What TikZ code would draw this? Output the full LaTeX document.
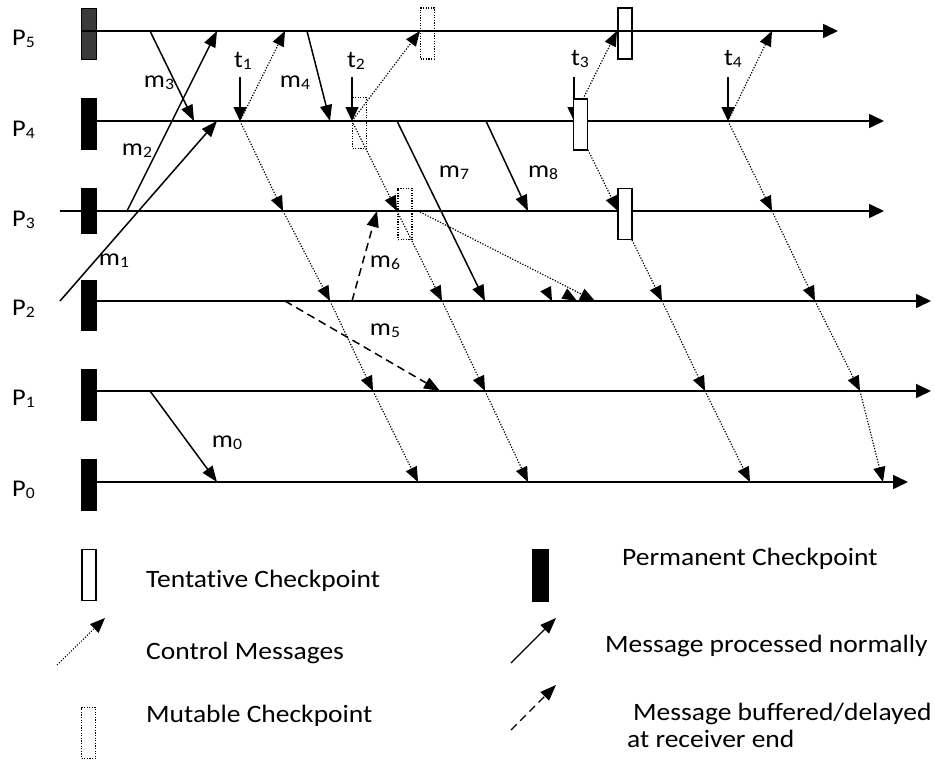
\documentclass[tikz,border=0pt]{standalone}
\usepackage{fontspec}
\setmainfont{Carlito}[FakeStretch=1.1,Ligatures=NoCommon]
\usetikzlibrary{arrows.meta}
\definecolor{dk}{HTML}{3A3A3A}
\newcommand\sbs[1]{\raisebox{-2pt}{\fontsize{16}{18}\selectfont #1}}
\begin{document}
\begin{tikzpicture}[x=1pt,y=-1pt,
  proc/.style={line width=1.6pt,-{Triangle[length=15pt 0 1,width=14pt 0 1]}},
  msg/.style={line width=1.5pt,-{Triangle[length=16pt 0 1,width=12pt 0 1]}},
  buf/.style={msg,dash pattern=on 8pt off 5pt},
  ctrl/.style={line width=1.2pt,dash pattern=on 1.2pt off 1.6pt,-{Triangle[length=15pt 0 1,width=12pt 0 1]}},
  tarr/.style={line width=1.5pt,-{Triangle[length=14pt 0 1,width=13pt 0 1]}},
  perm/.style={draw,fill=black,line width=1pt,minimum width=15pt,inner sep=0pt},
  tent/.style={draw,fill=white,line width=1.4pt,minimum width=14pt,minimum height=51pt,inner sep=0pt},
  mut/.style={draw,dash pattern=on 1.2pt off 1.4pt,line width=1.1pt,minimum width=14pt,minimum height=51pt,inner sep=0pt},
  lab/.style={font=\fontsize{24}{28}\selectfont,inner sep=0pt,anchor=base},
  plab/.style={font=\fontsize{24}{28}\selectfont,inner sep=0pt,anchor=base west},
  leg/.style={font=\fontsize{25}{30}\selectfont,inner sep=0pt,anchor=base west}]
\useasboundingbox (0,0) rectangle (935,763);

% process lines
\coordinate (L4a) at (96,121); \coordinate (L4b) at (884,121);
\coordinate (L3a) at (60,211); \coordinate (L3b) at (884,211);
\coordinate (L2a) at (96,301); \coordinate (L2b) at (931,301);
\coordinate (L1a) at (96,391); \coordinate (L1b) at (931,391);
\coordinate (L0a) at (96,482); \coordinate (L0b) at (908,482);
\coordinate (L5a) at (81,31);  \coordinate (L5b) at (838,31);
\draw[proc] (L4a) -- (L4b);
\draw[proc] (L3a) -- (L3b);
\draw[proc] (L2a) -- (L2b);
\draw[proc] (L1a) -- (L1b);
\draw[proc] (L0a) -- (L0b);

% process labels
\node[plab] (P5) at (12,45)  {P\sbs{5}};
\node[plab] (P4) at (12,136) {P\sbs{4}};
\node[plab] (P3) at (12,226) {P\sbs{3}};
\node[plab] (P2) at (12,315) {P\sbs{2}};
\node[plab] (P1) at (12,405) {P\sbs{1}};
\node[plab] (P0) at (12,496) {P\sbs{0}};

% message events
\coordinate (a5) at (150,31);  \coordinate (a4) at (194,121);
\coordinate (b3) at (127,211); \coordinate (b5) at (217,31);
\coordinate (c2) at (60,301);  \coordinate (c4) at (217,121);
\coordinate (d5) at (307,31);  \coordinate (d4) at (330,121);
\coordinate (e4) at (397,121); \coordinate (e2) at (485,301);
\coordinate (f4) at (486,121); \coordinate (f3) at (528,211);
\coordinate (g1) at (150,391); \coordinate (g0) at (217,482);
\coordinate (h2) at (285,301); \coordinate (h1) at (440,391);
\coordinate (i2) at (352,301); \coordinate (i3) at (377,211);

\draw[msg] (a5) -- (a4);
\draw[msg] (b3) -- (b5);
\draw[msg] (c2) -- (c4);
\draw[msg] (d5) -- (d4);
\draw[msg] (e4) -- (e2);
\draw[msg] (f4) -- (f3);
\draw[msg] (g1) -- (g0);
\draw[buf] (h2) -- (h1);
\draw[buf] (i2) -- (i3);

% message labels
\node[lab] (m3) at (159,87)  {m\sbs{3}};
\node[lab] (m4) at (295,87)  {m\sbs{4}};
\node[lab] (m2) at (137,155) {m\sbs{2}};
\node[lab] (m1) at (114,265) {m\sbs{1}};
\node[lab] (m7) at (454,177) {m\sbs{7}};
\node[lab] (m8) at (543,177) {m\sbs{8}};
\node[lab] (m6) at (385,267) {m\sbs{6}};
\node[lab] (m5) at (385,335) {m\sbs{5}};
\node[lab] (m0) at (227,447) {m\sbs{0}};

% initiation arrows
\coordinate (t1s) at (240,77); \coordinate (t1) at (240,121);
\coordinate (t2s) at (352,77); \coordinate (t2) at (352,121);
\coordinate (t3s) at (574,77); \coordinate (t3) at (574,121);
\coordinate (t4s) at (728,77); \coordinate (t4) at (728,121);
\draw[tarr] (t1s) -- (t1);
\draw[tarr] (t2s) -- (t2);
\draw[tarr] (t3s) -- (t3);
\draw[tarr] (t4s) -- (t4);
\node[lab] (lt1) at (243,67) {t\sbs{1}};
\node[lab] (lt2) at (356,67) {t\sbs{2}};
\node[lab] (lt3) at (580,65) {t\sbs{3}};
\node[lab] (lt4) at (733,65) {t\sbs{4}};

% control messages, t1
\coordinate (k5) at (285,31); \coordinate (k3) at (283,211);
\coordinate (k2) at (330,301); \coordinate (k1) at (373,391); \coordinate (k0) at (418,482);
\draw[ctrl] (t1) -- (k5);
\draw[ctrl] (t1) -- (k3);
\draw[ctrl] (k3) -- (k2);
\draw[ctrl] (k2) -- (k1);
\draw[ctrl] (k1) -- (k0);

% control messages, t2
\coordinate (n5) at (420,31); \coordinate (n3) at (397,211);
\coordinate (n2) at (442,301); \coordinate (n1) at (485,391); \coordinate (n0) at (528,482);
\coordinate (q3) at (420,212); \coordinate (q2) at (595,301);
\draw[ctrl] (t2) -- (n5);
\draw[ctrl] (t2) -- (n3);
\draw[ctrl] (n3) -- (n2);
\draw[ctrl] (n2) -- (n1);
\draw[ctrl] (n1) -- (n0);
\draw[ctrl] (q3) -- (q2);
\fill (552,301) -- (551,286) -- (540.3,291.4) -- cycle;
\fill (577,301) -- (561.4,298.7) -- (567.2,288.4) -- cycle;

% control messages, t3
\coordinate (u4a) at (583,99);  \coordinate (u5) at (617,31);
\coordinate (u4b) at (588,150); \coordinate (u3) at (618,211);
\coordinate (u3b) at (632,240); \coordinate (u2) at (662,301);
\coordinate (u1) at (705,391);  \coordinate (u0) at (750,482);
\draw[ctrl] (u4a) -- (u5);
\draw[ctrl] (u4b) -- (u3);
\draw[ctrl] (u3b) -- (u2);
\draw[ctrl] (u2) -- (u1);
\draw[ctrl] (u1) -- (u0);

% control messages, t4
\coordinate (v5) at (772,31); \coordinate (v3) at (772,211);
\coordinate (v2) at (815,301); \coordinate (v1) at (860,391); \coordinate (v0) at (883,482);
\draw[ctrl] (t4) -- (v5);
\draw[ctrl] (t4) -- (v3);
\draw[ctrl] (v3) -- (v2);
\draw[ctrl] (v2) -- (v1);
\draw[ctrl] (v1) -- (v0);

% mutable checkpoints
\node[mut] (M4) at (359.5,123) {};
\node[mut] (M5) at (427.5,33.5) {};
\node[mut] (M3) at (405,214) {};

% tentative checkpoints
\node[tent] (T4) at (580.5,124.5) {};
\node[tent] (T5) at (625,33.5) {};
\node[tent] (T3) at (625,214) {};

% permanent checkpoints
\node[perm,fill=dk,minimum height=51pt] (C5) at (88.5,34) {};
\draw[proc] (L5a) -- (L5b);
\node[perm,minimum height=51pt] (C4) at (88.5,124) {};
\node[perm,minimum height=45pt] (C3) at (88.5,210.5) {};
\node[perm,minimum height=50pt] (C2) at (88.5,305) {};
\node[perm,minimum height=51pt] (C1) at (88.5,394.5) {};
\node[perm,minimum height=51pt] (C0) at (88.5,485) {};

% legend
\node[tent] (LT) at (89,575) {};
\node[leg] (LTt) at (146,587) {Tentative Checkpoint};
\node[perm,minimum width=16pt,minimum height=52pt] (LP) at (540.5,575.5) {};
\node[leg] (LPt) at (622,565) {Permanent Checkpoint};
\coordinate (lc1) at (57,665); \coordinate (lc2) at (105,618);
\draw[ctrl,line width=1pt] (lc1) -- (lc2);
\node[leg] (LCt) at (146,659) {Control Messages};
\coordinate (ls1) at (511,663); \coordinate (ls2) at (556,618);
\draw[msg,line width=1.2pt] (ls1) -- (ls2);
\node[leg] (LSt) at (605,652) {Message processed normally};
\node[mut] (LM) at (88.5,733) {};
\node[leg] (LMt) at (146,722) {Mutable Checkpoint};
\coordinate (lb1) at (511,730); \coordinate (lb2) at (556,685);
\draw[buf,line width=1.2pt] (lb1) -- (lb2);
\node[leg] (LBt) at (633,720) {Message buffered/delayed};
\node[leg] (LBt2) at (627,747) {at receiver end};
\end{tikzpicture}
\end{document}
